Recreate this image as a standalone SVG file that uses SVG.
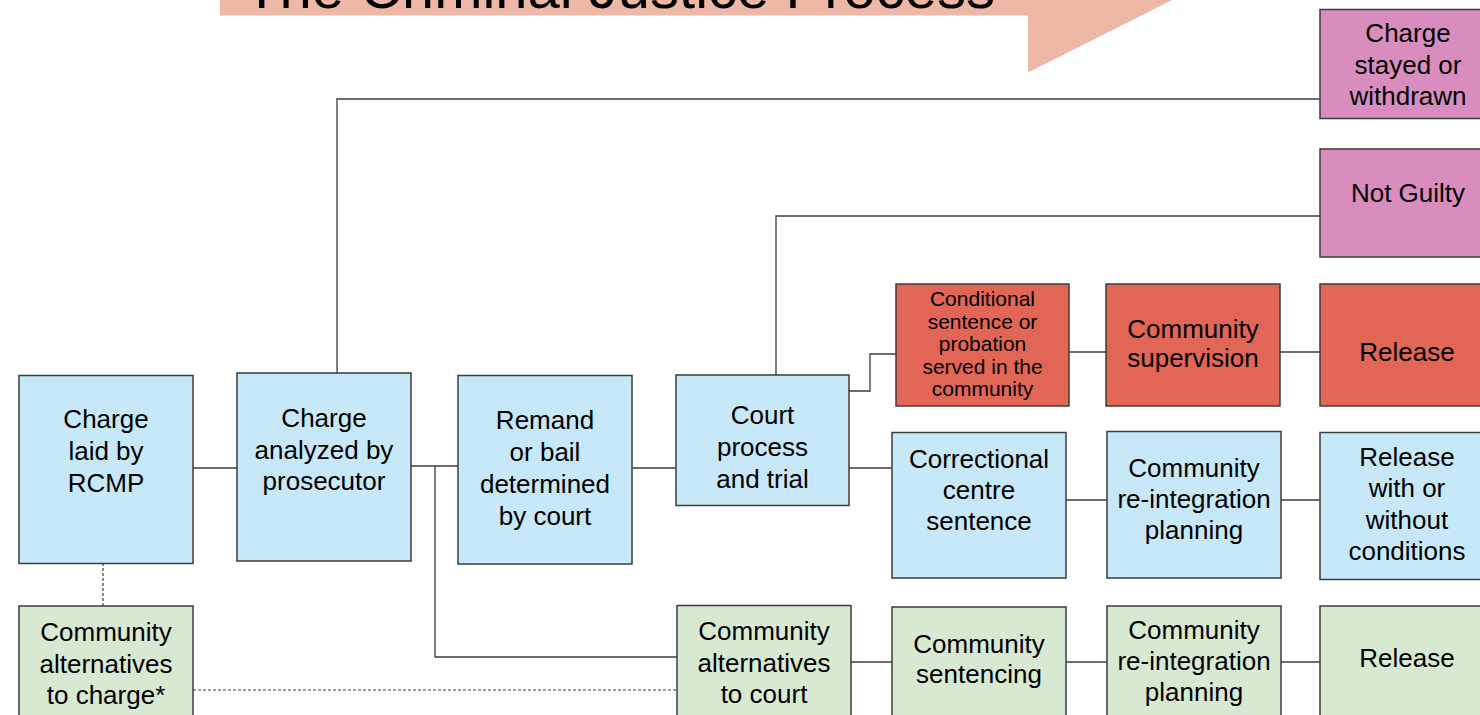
<svg xmlns="http://www.w3.org/2000/svg" width="1480" height="715" viewBox="0 0 1480 715">
<style>
.box{stroke:#3c3c3c;stroke-width:1.5}
.blue{fill:#c6e8f8}
.red{fill:#e26655}
.pink{fill:#d98dbf}
.green{fill:#d8e9d2}
.t{font-family:"Liberation Sans",Arial,sans-serif;font-size:26px;fill:#000;text-anchor:middle}
.s{font-size:21px}
.c{fill:none;stroke:#3c3c3c;stroke-width:1.3}
.d{fill:none;stroke:#3c3c3c;stroke-width:1.2;stroke-dasharray:3,2}
</style>
<rect width="1480" height="715" fill="#fff"/>
<g id="title">
<polygon points="220,-20 1212,-20 1028,72.5 1028,15.5 220,15.5" fill="#eeb8a6"/>
<text x="244" y="8" font-family="Liberation Sans,Arial,sans-serif" font-size="58" fill="#000">The Criminal Justice Process</text>
</g>
<g id="connectors">
<path class="c" d="M193,468H237"/>
<path class="c" d="M411,466H458"/>
<path class="c" d="M435,466V657H677"/>
<path class="c" d="M337,373V99H1320"/>
<path class="c" d="M632,468H676"/>
<path class="c" d="M776,375V216H1320"/>
<path class="c" d="M849,391H870V354H896"/>
<path class="c" d="M1069,352H1106"/>
<path class="c" d="M1280,352H1320"/>
<path class="c" d="M849,468H892"/>
<path class="c" d="M1066,500H1107"/>
<path class="c" d="M1281,500H1320"/>
<path class="c" d="M851,662H892"/>
<path class="c" d="M1066,662H1107"/>
<path class="c" d="M1281,662H1320"/>
<path class="d" d="M103,563V606"/>
<path class="d" d="M193,690H677"/>
</g>
<g id="n-rcmp"><rect class="box blue" x="19" y="375.5" width="174" height="188"/>
<text class="t" x="106"><tspan x="106" y="428">Charge</tspan><tspan x="106" y="460">laid by</tspan><tspan x="106" y="492">RCMP</tspan></text></g>
<g id="n-prosecutor"><rect class="box blue" x="237" y="373" width="174" height="188"/>
<text class="t"><tspan x="324" y="427">Charge</tspan><tspan x="324" y="459">analyzed by</tspan><tspan x="324" y="490">prosecutor</tspan></text></g>
<g id="n-remand"><rect class="box blue" x="458" y="375.5" width="174" height="188.5"/>
<text class="t"><tspan x="545" y="429">Remand</tspan><tspan x="545" y="461">or bail</tspan><tspan x="545" y="493">determined</tspan><tspan x="545" y="525">by court</tspan></text></g>
<g id="n-court"><rect class="box blue" x="676" y="375" width="173" height="130.5"/>
<text class="t"><tspan x="762.5" y="424">Court</tspan><tspan x="762.5" y="455.5">process</tspan><tspan x="762.5" y="487.5">and trial</tspan></text></g>
<g id="n-stayed"><rect class="box pink" x="1320" y="9.5" width="176" height="109"/>
<text class="t"><tspan x="1408" y="42">Charge</tspan><tspan x="1408" y="73.5">stayed or</tspan><tspan x="1408" y="105">withdrawn</tspan></text></g>
<g id="n-notguilty"><rect class="box pink" x="1320" y="149" width="176" height="108"/>
<text class="t" x="1408" y="202">Not Guilty</text></g>
<g id="n-conditional"><rect class="box red" x="896" y="284" width="173" height="122"/>
<text class="t s"><tspan x="982.5" y="306">Conditional</tspan><tspan x="982.5" y="328.5">sentence or</tspan><tspan x="982.5" y="351">probation</tspan><tspan x="982.5" y="373.5">served in the</tspan><tspan x="982.5" y="396">community</tspan></text></g>
<g id="n-supervision"><rect class="box red" x="1106" y="284" width="174" height="122"/>
<text class="t"><tspan x="1193" y="338">Community</tspan><tspan x="1193" y="367">supervision</tspan></text></g>
<g id="n-release-red"><rect class="box red" x="1320" y="284" width="176" height="122"/>
<text class="t" x="1407" y="361">Release</text></g>
<g id="n-correctional"><rect class="box blue" x="892" y="432.5" width="174" height="145.5"/>
<text class="t"><tspan x="979" y="467.5">Correctional</tspan><tspan x="979" y="499">centre</tspan><tspan x="979" y="530">sentence</tspan></text></g>
<g id="n-reint-blue"><rect class="box blue" x="1107" y="431.5" width="174" height="146.5"/>
<text class="t"><tspan x="1194" y="477">Community</tspan><tspan x="1194" y="508">re-integration</tspan><tspan x="1194" y="539">planning</tspan></text></g>
<g id="n-release-blue"><rect class="box blue" x="1320" y="432.5" width="176" height="147"/>
<text class="t"><tspan x="1407" y="465.5">Release</tspan><tspan x="1407" y="497">with or</tspan><tspan x="1407" y="529">without</tspan><tspan x="1407" y="560">conditions</tspan></text></g>
<g id="n-altcharge"><rect class="box green" x="19" y="606" width="174" height="112"/>
<text class="t"><tspan x="106" y="641">Community</tspan><tspan x="106" y="672.5">alternatives</tspan><tspan x="106" y="704">to charge*</tspan></text></g>
<g id="n-altcourt"><rect class="box green" x="677" y="605.5" width="174" height="112"/>
<text class="t"><tspan x="764" y="640">Community</tspan><tspan x="764" y="671.5">alternatives</tspan><tspan x="764" y="703">to court</tspan></text></g>
<g id="n-sentencing"><rect class="box green" x="892" y="607" width="174" height="112"/>
<text class="t"><tspan x="979" y="653">Community</tspan><tspan x="979" y="683">sentencing</tspan></text></g>
<g id="n-reint-green"><rect class="box green" x="1107" y="606" width="174" height="112"/>
<text class="t"><tspan x="1194" y="639">Community</tspan><tspan x="1194" y="670">re-integration</tspan><tspan x="1194" y="701">planning</tspan></text></g>
<g id="n-release-green"><rect class="box green" x="1320" y="606" width="176" height="112"/>
<text class="t" x="1407" y="667">Release</text></g>
</svg>
